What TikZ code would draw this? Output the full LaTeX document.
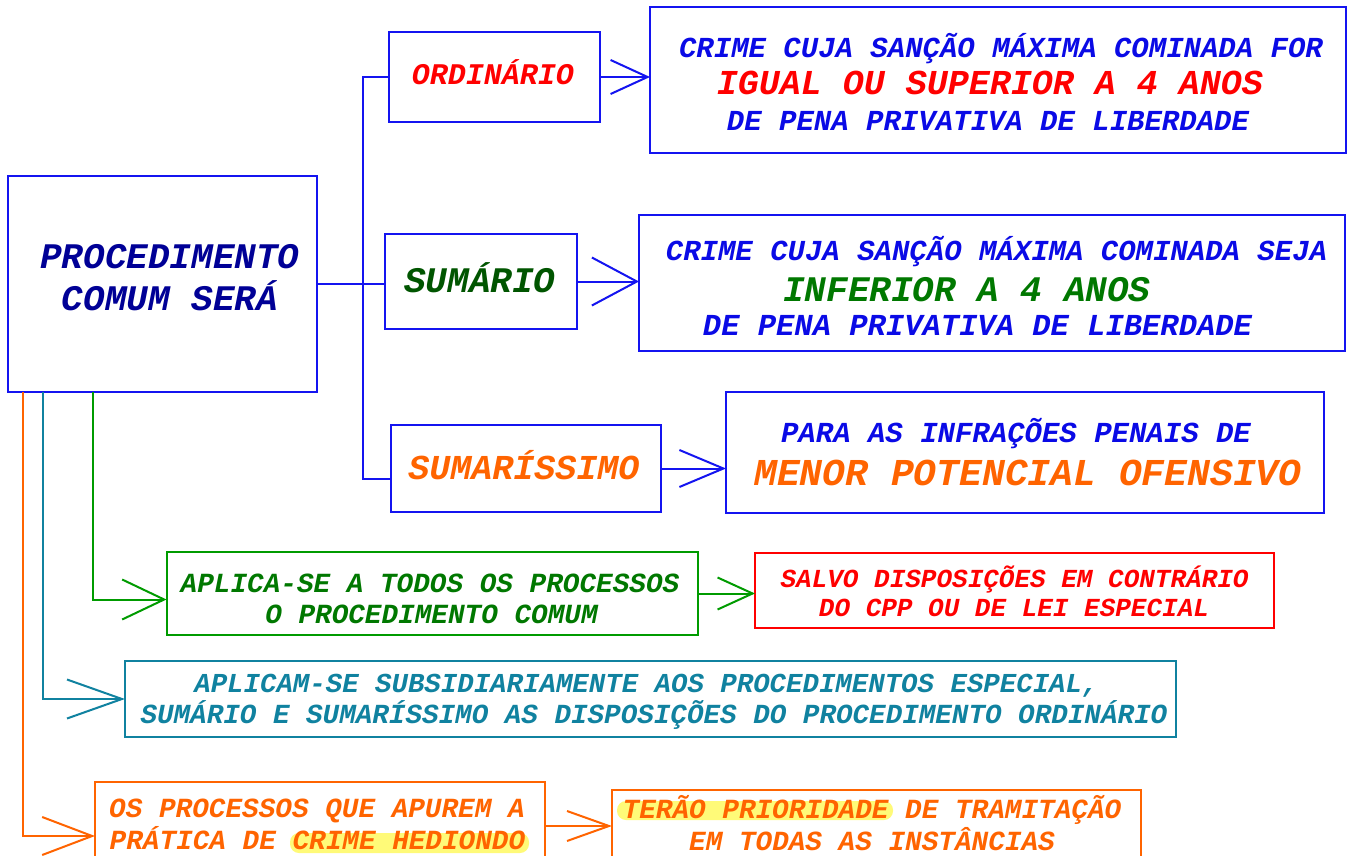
\documentclass[tikz,border=0pt]{standalone}
\usepackage{fontspec}
\newfontfamily\cf{Liberation Mono}
\usetikzlibrary{arrows.meta}
\definecolor{bline}{RGB}{20,20,240}
\definecolor{btext}{RGB}{10,10,230}
\definecolor{navy}{RGB}{0,0,150}
\definecolor{rtext}{RGB}{255,0,0}
\definecolor{dgreen}{RGB}{0,85,0}
\definecolor{gtext}{RGB}{0,120,0}
\definecolor{gline}{RGB}{0,155,0}
\definecolor{orng}{RGB}{255,100,0}
\definecolor{teal}{RGB}{16,130,160}
\definecolor{hly}{RGB}{255,250,120}
\newcommand\fsz[1]{\fontsize{#1}{#1}\selectfont}
\tikzset{
  box/.style={draw=#1, line width=2pt, inner sep=0pt, outer sep=0pt},
  txt/.style={font=\cf\bfseries\itshape, anchor=base, inner sep=0pt, text=#1},
  conn/.style={draw=#1, line width=2pt},
  arr/.style args={#1/#2/#3}{draw=#1, line width=2pt, -{Straight Barb[length=#2pt, width=#3pt, line width=2pt]}},
  hl/.style={fill=hly, rounded corners=9pt, inner sep=0pt}
}
\begin{document}
\begin{tikzpicture}[x=1pt,y=-1pt]
\useasboundingbox (0,0) rectangle (1349,856);
\fill[white] (0,0) rectangle (1349,856);
% boxes
\node[box=bline, minimum width=309pt, minimum height=216pt] (main) at (162.5,284) {};
\node[box=bline, minimum width=211pt, minimum height=90pt] (ord) at (494.5,77) {};
\node[box=bline, minimum width=192pt, minimum height=95pt] (sum) at (481,281.5) {};
\node[box=bline, minimum width=270pt, minimum height=87pt] (sumis) at (526,468.5) {};
\node[box=bline, minimum width=696pt, minimum height=146pt] (b1) at (998,80) {};
\node[box=bline, minimum width=706pt, minimum height=136pt] (b2) at (992,283) {};
\node[box=bline, minimum width=598pt, minimum height=121pt] (b3) at (1025,452.5) {};
\node[box=gline, minimum width=531.5pt, minimum height=83pt] (gbox) at (432.25,593.5) {};
\node[box=rtext, minimum width=519pt, minimum height=75pt] (rbox) at (1014.5,590.5) {};
\node[box=teal, minimum width=1051pt, minimum height=76pt] (tbox) at (650.5,699) {};
\node[box=orng, minimum width=450pt, minimum height=108pt] (obox) at (320,836) {};
\node[box=orng, minimum width=529pt, minimum height=72pt] (obox2) at (876.5,826) {};
% connectors
\coordinate (bb) at (363,479);
\draw[conn=bline] (main.east) -- (main.east -| sum.west);
\draw[conn=bline] (ord.west) -| (bb) -- (bb -| sumis.west);
\draw[arr=bline/37/34] (ord.east) -- (ord.east -| b1.west);
\draw[arr=bline/45/48] (sum.east) -- (sum.east -| b2.west);
\draw[arr=bline/44/37] (sumis.east) -- (sumis.east -| b3.west);
\coordinate (g0) at (93,392);
\coordinate (t0) at (43,392);
\coordinate (o0) at (23,392);
\draw[arr=gline/42/40] (g0) |- ([yshift=-6pt]gbox.west);
\draw[arr=gline/35/32] (gbox.east) -- (gbox.east -| rbox.west);
\draw[arr=teal/55/39] (t0) |- (tbox.west);
\draw[arr=orng/50/38] (o0) |- (obox.west);
\draw[arr=orng/42/30] (obox2.west -| obox.east) -- (obox2.west);
% highlights
\node[hl, minimum width=239pt, minimum height=20pt] (hl1) at (409.5,843) {};
\node[hl, minimum width=276pt, minimum height=19pt] (hl2) at (755,810.5) {};
% texts
\node[txt=navy] (m1) at (170,268) {\fsz{36}PROCEDIMENTO};
\node[txt=navy] (m2) at (170,310) {\fsz{36}COMUM SERÁ};
\node[txt=rtext] (ordt) at (493,85) {\fsz{30}ORDINÁRIO};
\node[txt=dgreen] (sumt) at (480,292) {\fsz{36}SUMÁRIO};
\node[txt=orng] (sumist) at (524,479) {\fsz{35}SUMARÍSSIMO};
\node[txt=btext] (b1a) at (1001,58) {\fsz{29}CRIME CUJA SANÇÃO MÁXIMA COMINADA FOR};
\node[txt=rtext] (b1b) at (990,95) {\fsz{35}IGUAL OU SUPERIOR A 4 ANOS};
\node[txt=btext] (b1c) at (988,131) {\fsz{29}DE PENA PRIVATIVA DE LIBERDADE};
\node[txt=btext] (b2a) at (996.5,260) {\fsz{29}CRIME CUJA SANÇÃO MÁXIMA COMINADA SEJA};
\node[txt=gtext] (b2b) at (967,301) {\fsz{36}INFERIOR A 4 ANOS};
\node[txt=btext] (b2c) at (977.5,335) {\fsz{30.5}DE PENA PRIVATIVA DE LIBERDADE};
\node[txt=btext] (b3a) at (1016,442) {\fsz{29}PARA AS INFRAÇÕES PENAIS DE};
\node[txt=orng] (b3b) at (1028,485) {\fsz{38}MENOR POTENCIAL OFENSIVO};
\node[txt=gtext] (ga) at (430,592) {\fsz{27.7}APLICA-SE A TODOS OS PROCESSOS};
\node[txt=gtext] (gb) at (431.5,623) {\fsz{27.7}O PROCEDIMENTO COMUM};
\node[txt=rtext] (ra) at (1014.6,587) {\fsz{26}SALVO DISPOSIÇÕES EM CONTRÁRIO};
\node[txt=rtext] (rb) at (1014,616) {\fsz{26}DO CPP OU DE LEI ESPECIAL};
\node[txt=teal] (ta) at (646.5,692) {\fsz{27.4}APLICAM-SE SUBSIDIARIAMENTE AOS PROCEDIMENTOS ESPECIAL,};
\node[txt=teal] (tb) at (654,723) {\fsz{27.6}SUMÁRIO E SUMARÍSSIMO AS DISPOSIÇÕES DO PROCEDIMENTO ORDINÁRIO};
\node[txt=orng] (oa) at (317,817) {\fsz{27.7}OS PROCESSOS QUE APUREM A};
\node[txt=orng] (ob) at (317.5,849) {\fsz{27.7}PRÁTICA DE CRIME HEDIONDO};
\node[txt=orng] (o2a) at (872,818) {\fsz{27.7}TERÃO PRIORIDADE DE TRAMITAÇÃO};
\node[txt=orng] (o2b) at (872,850) {\fsz{27.7}EM TODAS AS INSTÂNCIAS};
\end{tikzpicture}
\end{document}
